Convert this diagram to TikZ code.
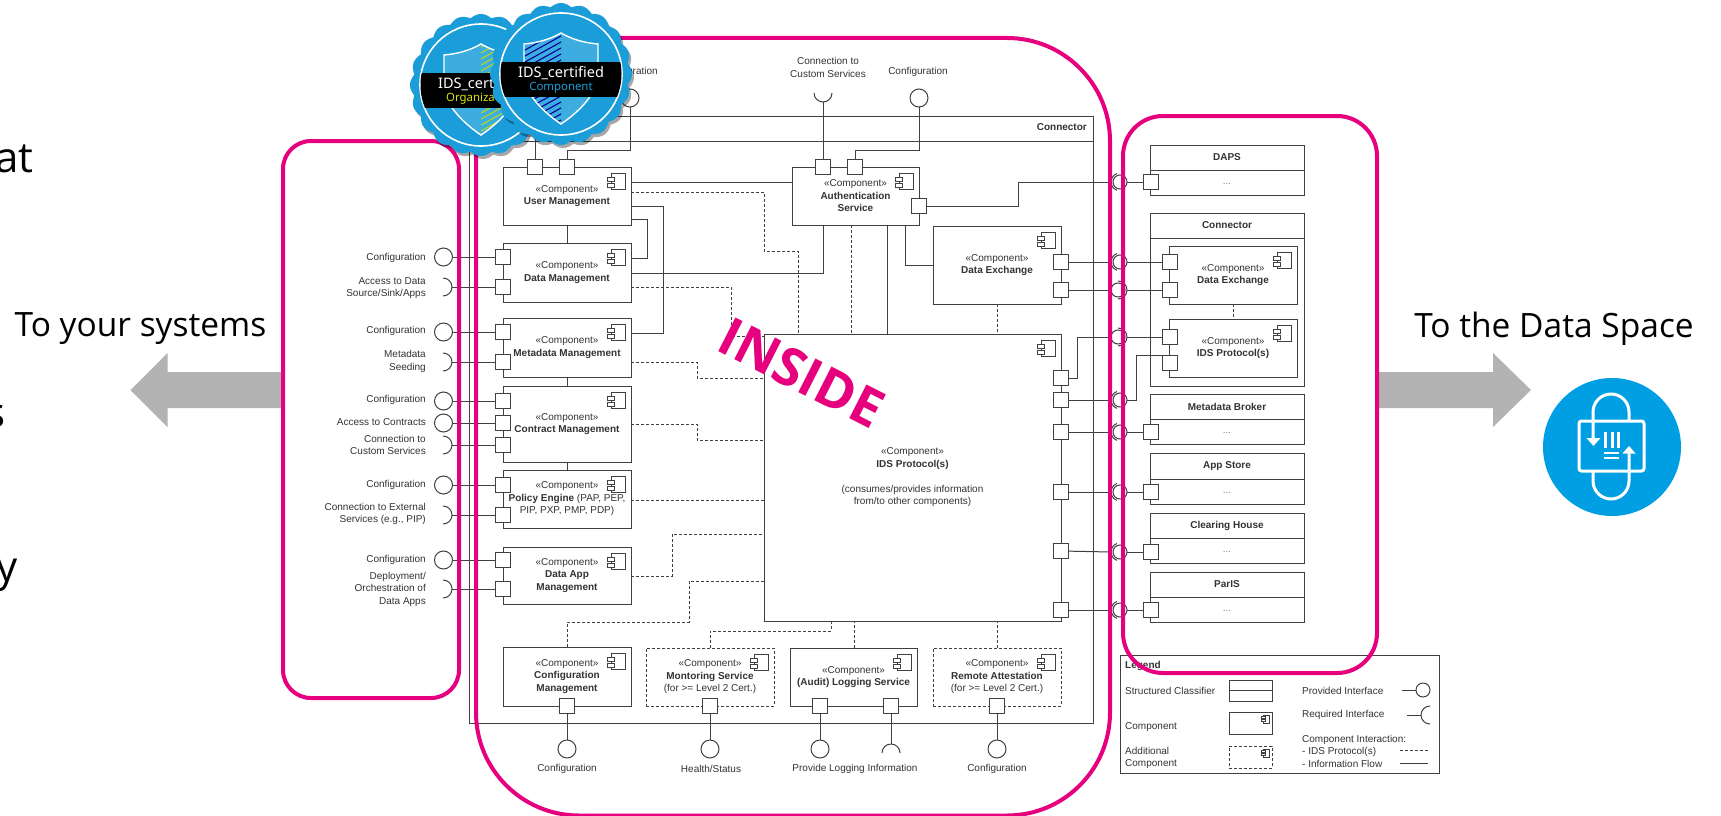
\documentclass[tikz,border=0pt]{standalone}
\usepackage{fontspec}
\setmainfont{Liberation Sans}
\newfontfamily\bigfont{Open Sans}
\newfontfamily\badgefont{Noto Sans}
\usetikzlibrary{calc}
\definecolor{linec}{HTML}{404040}
\definecolor{textc}{HTML}{333333}
\definecolor{pinkc}{HTML}{E6007E}
\definecolor{arrowc}{HTML}{B3B3B3}
\definecolor{circc}{HTML}{009FE3}
\definecolor{badgec}{HTML}{1B9DD9}
\newcommand{\cfont}{\fontsize{10}{12.5}\selectfont}
\tikzset{
  ln/.style={draw=linec,line width=1pt},
  dsh/.style={draw=linec,line width=.9pt,dash pattern=on 3pt off 2pt},
  pinkframe/.style={draw=pinkc,line width=4pt},
  compbox/.style={draw=linec,fill=white,line width=1pt,inner sep=0pt,outer sep=0pt,align=center,anchor=north west,font=\cfont,text=textc},
  dashbox/.style={compbox,dash pattern=on 3pt off 2pt},
  portbox/.style={draw=linec,fill=white,line width=1pt,minimum size=14.5pt,inner sep=0pt,outer sep=0pt},
  ballc/.style={draw=linec,fill=white,circle,line width=1pt,minimum size=18pt,inner sep=0pt,outer sep=0pt},
  ballb/.style={draw=linec,fill=none,circle,line width=1pt,minimum size=14pt,inner sep=0pt,outer sep=0pt},
  lab/.style={font=\cfont,text=textc,inner sep=0pt,align=center},
  labr/.style={font=\cfont,text=textc,inner sep=0pt,align=right,anchor=east},
  labl/.style={font=\cfont,text=textc,inner sep=0pt,align=left,anchor=west},
  bigtxt/.style={font=\bigfont\fontsize{33.5}{40}\selectfont,text=black,inner sep=0pt},
  croptxt/.style={font=\bigfont\fontsize{42}{50}\selectfont,text=black,inner sep=0pt},
  pal/.style={draw=white,line width=3pt,line cap=round},
}
\newcommand{\cmp}[6]{\node[compbox,minimum width={(#4-#2)*1pt},minimum height={(#5-#3)*1pt}] (#1) at (#2,#3) {#6};}
\newcommand{\dcmp}[6]{\node[dashbox,minimum width={(#4-#2)*1pt},minimum height={(#5-#3)*1pt}] (#1) at (#2,#3) {#6};}
\newcommand{\compicon}[1]{\begin{scope}[shift={(#1.north east)}]
  \draw[ln,fill=white] (-20,6) rectangle (-6,22);
  \draw[ln,fill=white] (-24,10) rectangle (-17,14);
  \draw[ln,fill=white] (-24,16) rectangle (-17,20);
\end{scope}}
\newcommand{\port}[3]{\node[portbox] (#1) at (#2,#3) {};}
\newcommand{\reqR}[3]{\coordinate (#1) at (#2,#3); \draw[ln] (#2,#3) ++(-9,-9) arc[start angle=90,end angle=-90,radius=9pt];}
\newcommand{\assyA}[2]{\coordinate (#1s) at (1110.8,#2); \node[ballb] (#1b) at (1120,#2) {};
  \draw[ln] (1120,#2) ++(-3.1,-8.5) arc[start angle=110,end angle=250,radius=9pt];}
\newcommand{\assyB}[2]{\coordinate (#1s) at (1127,#2); \node[ballb] (#1b) at (1118,#2) {};
  \draw[ln] (1118,#2) ++(0,-9) arc[start angle=90,end angle=-90,radius=9pt];}
\newcommand{\peer}[6]{\node[compbox,minimum width=154pt,minimum height={(#3-#2)*1pt}] (#1) at (1150,#2) {};
  \draw[ln] (#1.west |- 0,#4) -- (#1.east |- 0,#4);
  \node[lab] (#1t) at (1227,{(#2+#4)/2}) {\textbf{#5}};
  \ifx&#6&\else\node[lab,text=gray] (#1d) at (1227,{(#3+#4)/2+1}) {#6};\fi}
\newcommand{\badgeplot}{plot[domain=0:360,samples=241,variable=\t] ({(67.5+3.5*abs(cos(10*\t)))*cos(\t)},{(67.5+3.5*abs(cos(10*\t)))*sin(\t)})}
\newcommand{\shieldpath}{(0,-41) .. controls (-12,-34) and (-25,-31) .. (-37,-30) -- (-37,3) .. controls (-35,22) and (-15,40) .. (0,50) .. controls (15,40) and (35,22) .. (37,3) -- (37,-30) .. controls (25,-31) and (12,-34) .. (0,-41) -- cycle}
\newcommand{\idsbadge}[6]{\begin{scope}[shift={(#1,#2)}]
  \fill[black,opacity=.35,shift={(2,3)}] \badgeplot -- cycle;
  \fill[badgec] \badgeplot -- cycle;
  \draw[white,line width=1.6pt] (0,0) circle[radius=61pt];
  \fill[white!15!badgec] \shieldpath;
  \begin{scope}
    \clip \shieldpath;
    \clip (0,-60) rectangle (#3*40,60);
    \foreach \k in {-80,-74,...,80} {\draw[#4,line width=1.1pt] (-45,\k+25) -- (45,\k-25);}
  \end{scope}
  \draw[white,line width=1.4pt] \shieldpath;
  \begin{scope}
    \clip (0,0) circle[radius=60.5pt];
    \fill[black] (-62,-12) rectangle (62,23);
  \end{scope}
  \node[inner sep=0pt,text=white,font=\badgefont\fontsize{14.5}{16}\selectfont] at (0,-1) {\textbf{IDS}\_certified};
  \node[inner sep=0pt,text=#6,font=\badgefont\fontsize{11.4}{13}\selectfont] at (0,14) {#5};
\end{scope}}
\begin{document}
\begin{tikzpicture}[x=1pt,y=-1pt]
\path[use as bounding box,clip] (0,0) rectangle (1721,816);
\fill[white] (0,0) rectangle (1721,816);

\node[croptxt,anchor=base east] (cropa) at (34,172) {at};
\node[croptxt,anchor=base east] (cropb) at (6,427) {s};
\node[croptxt,anchor=base east] (cropc) at (17.5,581) {y};
\node[bigtxt,anchor=center] (capl) at (140.5,329) {To your systems};
\node[bigtxt,anchor=center] (capr) at (1554,329) {To the Data Space};

\fill[arrowc] (283,372) -- (167.5,372) -- (167.5,353) -- (130.5,390) -- (167.5,427) -- (167.5,408) -- (283,408) -- cycle;
\fill[arrowc] (1379,372) -- (1493,372) -- (1493,353) -- (1531,390) -- (1493,427) -- (1493,408) -- (1379,408) -- cycle;

\fill[circc] (1612,447) circle[radius=69pt];
\draw[pal,rounded corners=2.5pt] (1579,421) rectangle (1644,471);
\draw[pal] (1629,421) -- (1629,412) arc[start angle=0,end angle=180,radius=18pt] -- (1593,440);
\fill[white] (1586.5,438) -- (1600.5,438) -- (1593.5,446) -- cycle;
\draw[pal] (1593,471) -- (1593,481) arc[start angle=180,end angle=360,radius=18pt] -- (1629,453);
\fill[white] (1622.5,453.5) -- (1635.5,453.5) -- (1629,446) -- cycle;
\draw[pal,line cap=butt] (1605,432) -- (1605,448) (1612,432) -- (1612,448) (1618.5,432) -- (1618.5,448);
\draw[pal,line cap=butt,line width=2.4pt] (1604,453) -- (1619,453) (1604,458) -- (1619,458);

\cmp{conn}{469}{116}{1093}{723}{}
\draw[ln] (conn.west |- 0,141) -- (conn.east |- 0,141);
\node[labr] (connt) at (1087,127.5) {\textbf{Connector}};

\cmp{um}{503}{167}{631}{225}{«Component»\\\textbf{User Management}}
\cmp{dm}{503}{243}{631}{302}{«Component»\\\textbf{Data Management}}
\cmp{mm}{503}{318}{631}{377}{«Component»\\\textbf{Metadata Management}}
\cmp{cm}{503}{386}{631}{462}{«Component»\\\textbf{Contract Management}}
\cmp{pe}{503}{470}{631}{528}{«Component»\\\textbf{Policy Engine} (PAP, PEP,\\PIP, PXP, PMP, PDP)}
\cmp{da}{503}{547}{631}{604}{«Component»\\\textbf{Data App}\\\textbf{Management}}
\cmp{cf}{503}{647}{631}{706}{«Component»\\\textbf{Configuration}\\\textbf{Management}}
\dcmp{ms}{646}{648}{774}{706}{«Component»\\\textbf{Montoring Service}\\(for >= Level 2 Cert.)}
\cmp{ls}{790}{648}{917}{706}{«Component»\\\textbf{(Audit) Logging Service}}
\dcmp{ra}{933}{648}{1061}{706}{«Component»\\\textbf{Remote Attestation}\\(for >= Level 2 Cert.)}
\cmp{au}{792}{167}{919}{225}{«Component»\\\textbf{Authentication}\\\textbf{Service}}
\cmp{dx}{933}{226}{1061}{304}{«Component»\\\textbf{Data Exchange}}
\cmp{ip}{764}{334}{1061}{621}{«Component»\\\textbf{IDS Protocol(s)}\\[12.5pt](consumes/provides information\\from/to other components)}
\foreach \n in {um,dm,mm,cm,pe,da,cf,ms,ls,ra,au,dx,ip} {\compicon{\n}}

\port{um1}{535}{167}\port{um2}{567}{167}
\port{dm1}{503}{257}\port{dm2}{503}{287}
\port{mm1}{503}{332}\port{mm2}{503}{362}
\port{cm1}{503}{401}\port{cm2}{503}{423}\port{cm3}{503}{445}
\port{pe1}{503}{485}\port{pe2}{503}{515}
\port{da1}{503}{560}\port{da2}{503}{589}
\port{cf1}{567}{706}\port{ms1}{710}{706}\port{ls1}{820}{706}\port{ls2}{891}{706}\port{ra1}{997}{706}
\port{au1}{823}{167}\port{au2}{855}{167}\port{au3}{919}{206}
\port{dx1}{1061}{262}\port{dx2}{1061}{290}
\port{ip1}{1061}{378}\port{ip2}{1061}{400}\port{ip3}{1061}{432}\port{ip4}{1061}{492}\port{ip5}{1061}{551}\port{ip6}{1061}{610}

\node[ballc] (lb1) at (443.5,257) {};\reqR{lr1}{452}{287}
\node[ballc] (lb2) at (443.5,332) {};\reqR{lr2}{452}{362}
\node[ballc] (lb3) at (443.5,401) {};\node[ballc] (lb4) at (443.5,423) {};\reqR{lr3}{452}{445}
\node[ballc] (lb5) at (443.5,485) {};\reqR{lr4}{452}{515}
\node[ballc] (lb6) at (443.5,560) {};\reqR{lr5}{452}{589}
\draw[ln] (lb1) -- (dm1); \draw[ln] (lr1) -- (dm2);
\draw[ln] (lb2) -- (mm1); \draw[ln] (lr2) -- (mm2);
\draw[ln] (lb3) -- (cm1); \draw[ln] (lb4) -- (cm2); \draw[ln] (lr3) -- (cm3);
\draw[ln] (lb5) -- (pe1); \draw[ln] (lr4) -- (pe2);
\draw[ln] (lb6) -- (da1); \draw[ln] (lr5) -- (da2);
\node[labr] (t1) at (426,258) {Configuration};
\node[labr] (t2) at (426,288) {Access to Data\\Source/Sink/Apps};
\node[labr] (t3) at (426,331) {Configuration};
\node[labr] (t4) at (426,361.5) {Metadata\\Seeding};
\node[labr] (t5) at (426,400) {Configuration};
\node[labr] (t6) at (426,422.5) {Access to Contracts};
\node[labr] (t7) at (426,445) {Connection to\\Custom Services};
\node[labr] (t8) at (426,485) {Configuration};
\node[labr] (t9) at (426,514) {Connection to External\\Services (e.g., PIP)};
\node[labr] (t10) at (426,560) {Configuration};
\node[labr] (t11) at (426,589) {Deployment/\\Orchestration of\\Data Apps};

\coordinate (hid) at (535,120);
\draw[ln] (hid) -- (um1);
\node[ballc] (tb1) at (630,98) {};
\draw[ln] (tb1) -- (630,150) -- (567,150) -- (um2);
\node[lab] (t12) at (628,72) {Configuration};
\coordinate (ts) at (823,102);
\draw[ln] (823,93) ++(-9,0) arc[start angle=180,end angle=360,radius=9pt];
\draw[ln] (ts) -- (au1);
\node[ballc] (tb2) at (919,98) {};
\draw[ln] (tb2) -- (919,150) -- (855,150) -- (au2);
\node[lab] (t13) at (828,67.5) {Connection to\\Custom Services};
\node[lab] (t14) at (918,72) {Configuration};

\node[ballc] (bb1) at (567,749) {};\draw[ln] (cf1) -- (bb1);
\node[ballc] (bb2) at (710,749) {};\draw[ln] (ms1) -- (bb2);
\node[ballc] (bb3) at (820,749) {};\draw[ln] (ls1) -- (bb3);
\coordinate (bs) at (891,744);
\draw[ln] (891,753) ++(-9,0) arc[start angle=180,end angle=0,radius=9pt];
\draw[ln] (ls2) -- (bs);
\node[ballc] (bb4) at (997,749) {};\draw[ln] (ra1) -- (bb4);
\node[lab] (t15) at (567,769) {Configuration};
\node[lab] (t16) at (711,769) {Health/Status};
\node[lab] (t17) at (855,769) {Provide Logging Information};
\node[lab] (t18) at (997,769) {Configuration};

\draw[ln] (um) -- (dm);
\draw[ln] (mm) -- (cm);
\draw[ln] (cm) -- (pe);
\draw[ln] (um.east |- 0,182) -- (au.west |- 0,182);
\draw[ln] (um.east |- 0,206) -- (663,206) -- (663,333) -- (mm.east |- 0,333);
\draw[ln] (um.east |- 0,219) -- (647,219) -- (647,258) -- (dm.east |- 0,258);
\draw[ln] (dm.east |- 0,273) -- (823,273) -- (823,225);
\draw[ln] (887,225) -- (887,334);
\draw[ln] (905,225) -- (905,265) -- (dx.west |- 0,265);
\draw[dsh] (um.east |- 0,192) -- (764,192) -- (764,251) -- (798,251) -- (798,334);
\draw[dsh] (dm.east |- 0,287) -- (731,287) -- (731,336) -- (ip.west |- 0,336);
\draw[dsh] (mm.east |- 0,362) -- (697,362) -- (697,378) -- (ip.west |- 0,378);
\draw[dsh] (cm.east |- 0,424) -- (697,424) -- (697,440) -- (ip.west |- 0,440);
\draw[dsh] (pe.east |- 0,500) -- (ip.west |- 0,500);
\draw[dsh] (da.east |- 0,576) -- (672,576) -- (672,534) -- (ip.west |- 0,534);
\draw[dsh] (cf.north) -- (567,622) -- (689,622) -- (689,581) -- (ip.west |- 0,581);
\draw[dsh] (710,648) -- (710,631) -- (831,631) -- (831,621);
\draw[dsh] (854,648) -- (854,621);
\draw[dsh] (997,648) -- (997,621);
\draw[dsh] (997,304) -- (997,334);
\draw[dsh] (851,225) -- (851,334);

\peer{pdaps}{145}{195}{170}{DAPS}{...}
\peer{pconn}{213}{386}{238}{Connector}{}
\cmp{pdx}{1169}{246}{1297}{304}{«Component»\\\textbf{Data Exchange}}
\cmp{pip}{1169}{319}{1297}{377}{«Component»\\\textbf{IDS Protocol(s)}}
\compicon{pdx}\compicon{pip}
\draw[dsh] (pdx) -- (pip);
\peer{pmb}{394}{444}{419}{Metadata Broker}{...}
\peer{pas}{453}{504}{479}{App Store}{...}
\peer{pch}{513}{563}{538}{Clearing House}{...}
\peer{ppa}{572}{622}{597}{ParIS}{...}
\port{xd}{1151}{182}\port{xdx1}{1170}{262}\port{xdx2}{1170}{290}\port{xip1}{1170}{337}\port{xip2}{1170}{363}
\port{xmb}{1151}{432}\port{xas}{1151}{492}\port{xch}{1151}{552}\port{xpa}{1151}{610}

\assyA{a1}{182}\assyA{a2}{262}\assyB{a3}{290}\assyB{a4}{337}\assyA{a5}{400}
\assyA{a6}{432}\assyA{a7}{492}\assyA{a8}{552}\assyA{a9}{610}
\draw[ln] (au3) -- (1018,206) -- (1018,182) -- (a1s);
\draw[ln] (a1b) -- (xd);
\draw[ln] (dx1) -- (a2s); \draw[ln] (a2b) -- (xdx1);
\draw[ln] (dx2) -- (a3b); \draw[ln] (a3s) -- (xdx2);
\draw[ln] (ip1) -- (1077,378) -- (1077,337) -- (a4b); \draw[ln] (a4s) -- (xip1);
\draw[ln] (ip2) -- (a5s); \draw[ln] (a5b) -- (1136,400) -- (1136,355.75) -- (xip2.north west);
\draw[ln] (ip3) -- (a6s); \draw[ln] (a6b) -- (xmb);
\draw[ln] (ip4) -- (a7s); \draw[ln] (a7b) -- (xas);
\draw[ln] (ip5) -- (a8s); \draw[ln] (a8b) -- (xch);
\draw[ln] (ip6) -- (a9s); \draw[ln] (a9b) -- (xpa);

\cmp{leg}{1120}{655}{1439}{773}{}
\node[labl] (l1) at (1125,666) {\textbf{Legend}};
\node[labl] (l2) at (1125,691) {Structured Classifier};
\node[labl] (l3) at (1125,727) {Component};
\node[labl] (l4) at (1125,758) {Additional\\Component};
\cmp{lb1x}{1229}{680}{1272}{701}{}
\draw[ln] (lb1x.west) -- (lb1x.east);
\cmp{lb2x}{1229}{712}{1272}{734}{}
\dcmp{lb3x}{1229}{746}{1272}{768}{}
\foreach \yy in {719,753} {
  \draw[linec,line width=.6pt] (1263,\yy-4) rectangle (1269,\yy+4);
  \draw[linec,line width=.6pt,fill=white] (1261,\yy-2.5) rectangle (1265,\yy-.5);
  \draw[linec,line width=.6pt,fill=white] (1261,\yy+.5) rectangle (1265,\yy+2.5);
}
\node[labl] (l5) at (1302,691) {Provided Interface};
\node[labl] (l6) at (1302,715) {Required Interface};
\node[labl] (l7) at (1302,751) {Component Interaction:\\- IDS Protocol(s)\\- Information Flow};
\node[ballb] (lball) at (1423,690) {};
\coordinate (lba) at (1402,690);
\draw[ln] (lba) -- (lball);
\coordinate (lra) at (1407,715);
\coordinate (lrb) at (1421,715);
\draw[ln] (lra) -- (lrb);
\draw[ln] (1430,715) ++(0,-9) arc[start angle=90,end angle=270,radius=9pt];
\coordinate (lda) at (1400,750);\coordinate (ldb) at (1428,750);
\draw[dsh] (lda) -- (ldb);
\coordinate (lsa) at (1400,763);\coordinate (lsb) at (1428,763);
\draw[ln] (lsa) -- (lsb);

\draw[pinkframe,rounded corners=28pt] (283,141) rectangle (459,698);
\draw[pinkframe,rounded corners=103pt] (476,38) rectangle (1110,815.5);
\draw[pinkframe,rounded corners=40pt] (1123,116) rectangle (1377,673);

\node[text=pinkc,font=\bigfont\bfseries\fontsize{53}{60}\selectfont,rotate=-27,inner sep=0pt] (inside) at (802,373) {INSIDE};

\idsbadge{481}{85}{1}{yellow!70!green}{Organization}{yellow!85!green}
\idsbadge{561}{74}{-1}{blue!60!black}{Component}{badgec}
\end{tikzpicture}
\end{document}
